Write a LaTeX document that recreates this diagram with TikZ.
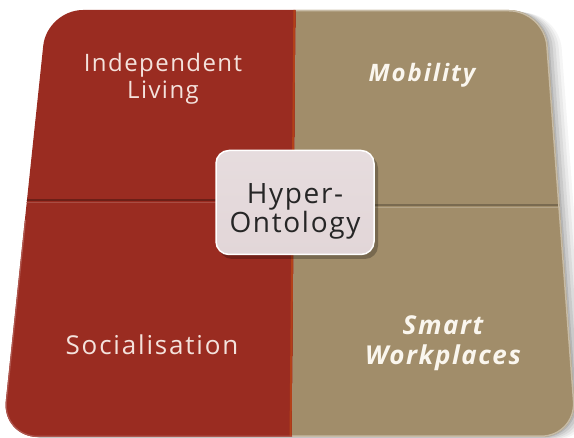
\documentclass[tikz,border=0pt]{standalone}
\usepackage{fontspec}
\setmainfont{Open Sans}
\usetikzlibrary{calc}
\definecolor{quadred}{RGB}{154,44,33}
\definecolor{quadtan}{RGB}{161,141,106}
\definecolor{hubfill}{RGB}{226,214,216}
\definecolor{labred}{RGB}{244,226,220}
\definecolor{labtan}{RGB}{250,246,238}
\tikzset{
  quadlabel/.style={font=\fontsize{24}{27}\selectfont\addfontfeatures{LetterSpace=6},align=center,text=labred},
  quadlabelit/.style={quadlabel,font=\fontsize{24}{30}\selectfont\bfseries\itshape\addfontfeatures{LetterSpace=8},text=labtan},
  hub/.style={draw=white,line width=1.5pt,top color=hubfill!85!white,bottom color=hubfill,
              rounded corners=13pt,minimum width=158pt,minimum height=104pt},
  hubtext/.style={align=center,font=\fontsize{28}{26}\selectfont\addfontfeatures{LetterSpace=6},text=black!85},
  seam/.style={line width=1.6pt},
}
\def\boardoutline{[rounded corners=36pt] (47,10) -- (545,10) -- (577,437) -- (2,437) -- cycle}

\begin{document}
\begin{tikzpicture}[x=1pt,y=-1pt]
  \path[use as bounding box] (0,0) rectangle (574,438);
  % soft shadow behind the board
  \foreach \d/\op in {14/0.04,11/0.05,8/0.06,5/0.08,2/0.1}{
    \fill[black,opacity=\op,shift={(\d,\d*0.2)}] \boardoutline;
  }
  \fill[white] (0,0) rectangle (574,9);
  \begin{scope}
    \clip \boardoutline;
    \fill[quadred] (0,0) -- (296,0) -- (292,438) -- (0,438) -- cycle;
    \fill[quadtan] (296,0) -- (574,0) -- (574,438) -- (292,438) -- cycle;
    \draw[seam,quadred!70!black] (0,200) -- (294,200);
    \draw[seam,quadred!85!white] (0,202.5) -- (294,202.5);
    \draw[seam,quadtan!75!black] (294,205) -- (574,205);
    \draw[seam,quadtan!80!white] (294,207.5) -- (574,207.5);
    \draw[line width=2pt,quadred!75!orange] (294.5,0) -- (290.5,438);
  \end{scope}
  % light rim round the board
  \begin{scope}
    \clip \boardoutline;
    \begin{scope}
      \clip (296,0) -- (574,0) -- (574,438) -- (292,438) -- cycle;
      \draw[line width=3pt,quadtan!60!white] \boardoutline;
    \end{scope}
    \begin{scope}
      \clip (0,220) -- (294,220) -- (292,438) -- (0,438) -- cycle;
      \draw[line width=2.5pt,quadred!80!white] \boardoutline;
    \end{scope}
  \end{scope}

  \node[quadlabel] (living) at (163,79) {Independent\\Living};
  \node[quadlabelit] (mobility) at (422,75) {Mobility};
  \node[quadlabel,font=\fontsize{26}{30}\selectfont\addfontfeatures{LetterSpace=7}] (social) at (152,345) {Socialisation};
  \node[quadlabelit,font=\fontsize{26}{30}\selectfont\bfseries\itshape\addfontfeatures{LetterSpace=6}] (smart) at (443,343) {Smart\\Workplaces};

  \fill[black,opacity=0.25,rounded corners=13pt] (219,155) rectangle (378,259);
  \node[hub] (hyper) at (295,202.5) {};
  \node[hubtext] (hyperlabel) at ([yshift=-9pt]hyper.center) {Hyper-\\Ontology};
\end{tikzpicture}
\end{document}
